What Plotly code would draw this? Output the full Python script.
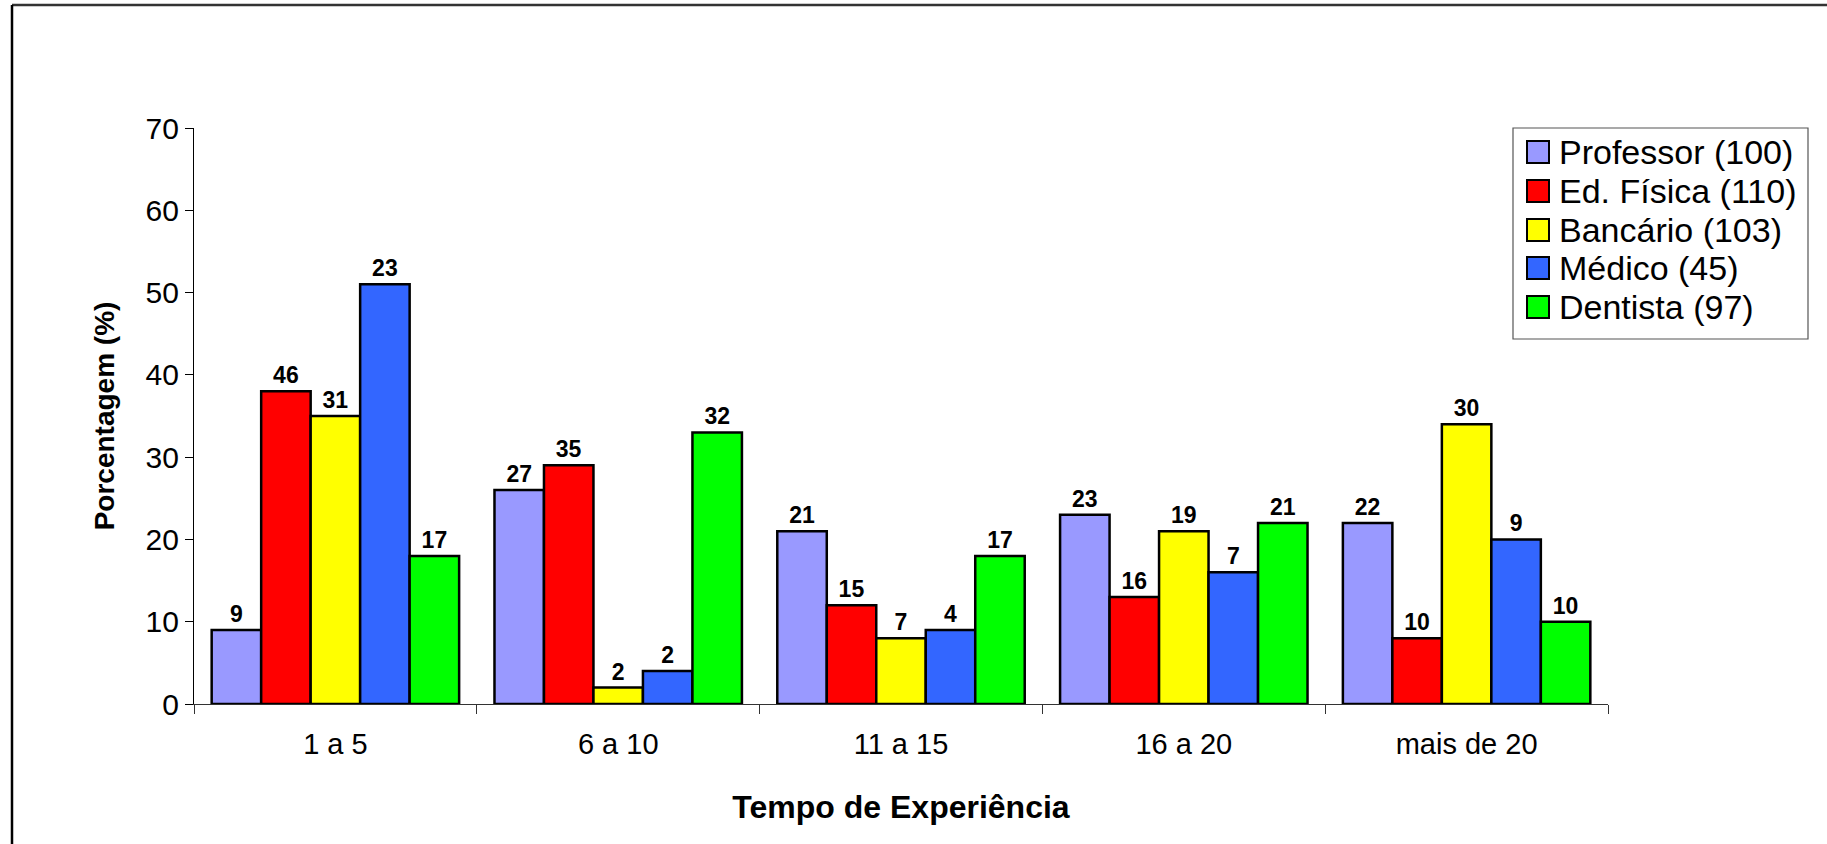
import plotly.graph_objects as go

# Experience brackets (x categories)
categories = ["1 a 5", "6 a 10", "11 a 15", "16 a 20", "mais de 20"]

# Series names as shown in the legend
series_names = ["Professor (100)", "Ed. Física (110)", "Bancário (103)", "Médico (45)", "Dentista (97)"]

# Percentage per bracket (bar heights)
professor_pct = [9, 26, 21, 23, 22]
edfisica_pct = [38, 29, 12, 13, 8]
bancario_pct = [35, 2, 8, 21, 34]
medico_pct = [51, 4, 9, 16, 20]
dentista_pct = [18, 33, 18, 22, 10]

# Absolute counts written above the bars
professor_n = [9, 27, 21, 23, 22]
edfisica_n = [46, 35, 15, 16, 10]
bancario_n = [31, 2, 7, 19, 30]
medico_n = [23, 2, 4, 7, 9]
dentista_n = [17, 32, 17, 21, 10]

y_ticks = [0, 10, 20, 30, 40, 50, 60, 70]

colors = ["#9999FF", "#FF0000", "#FFFF00", "#3366FF", "#00FF00"]
pct_series = [professor_pct, edfisica_pct, bancario_pct, medico_pct, dentista_pct]
n_series = [professor_n, edfisica_n, bancario_n, medico_n, dentista_n]

FONT = "Liberation Sans, Arial, sans-serif"
W, H = 1827, 844
ML, MR, MT, MB = 194, 219, 128, 140
PW, PH = W - ML - MR, H - MT - MB


def px_x(px):
    return (px - ML) / PW


def px_y(py):
    return (H - MB - py) / PH


fig = go.Figure()
for name, vals, counts, col in zip(series_names, pct_series, n_series, colors):
    fig.add_trace(go.Bar(
        x=categories, y=vals, name=name,
        text=[str(c) for c in counts],
        textposition="outside",
        constraintext="none",
        textfont=dict(family=FONT, size=23, color="black", weight="bold"),
        marker=dict(color=col, line=dict(color="black", width=2.5)),
        cliponaxis=False,
        showlegend=False,
    ))

shapes = []
annotations = []

# Outer chart frame (left and top edges)
shapes.append(dict(type="line", xref="paper", yref="paper",
                   x0=px_x(12), x1=px_x(W + 5), y0=px_y(5), y1=px_y(5),
                   line=dict(color="#333333", width=2.5)))
shapes.append(dict(type="line", xref="paper", yref="paper",
                   x0=px_x(12), x1=px_x(12), y0=px_y(5), y1=px_y(H + 5),
                   line=dict(color="black", width=2.5)))

# Legend box
shapes.append(dict(type="rect", xref="paper", yref="paper",
                   x0=px_x(1513), x1=px_x(1808), y0=px_y(128), y1=px_y(339),
                   line=dict(color="#555555", width=1.2), fillcolor="white"))
row_y = [152, 191, 230, 268, 307]
for name, col, ry in zip(series_names, colors, row_y):
    shapes.append(dict(type="rect", xref="paper", yref="paper",
                       x0=px_x(1527), x1=px_x(1549), y0=px_y(ry - 11), y1=px_y(ry + 11),
                       line=dict(color="black", width=2), fillcolor=col))
    annotations.append(dict(xref="paper", yref="paper", x=px_x(1557), y=px_y(ry),
                            xanchor="left", yanchor="middle", showarrow=False,
                            text=name, font=dict(family=FONT, size=34, color="black")))

fig.update_layout(
    width=W, height=H,
    margin=dict(l=ML, r=MR, t=MT, b=MB),
    paper_bgcolor="white", plot_bgcolor="white",
    barmode="group", bargap=0.125, bargroupgap=0,
    font=dict(family=FONT, color="black"),
    shapes=shapes, annotations=annotations,
    xaxis=dict(
        showline=True, linecolor="#333333", linewidth=1.2,
        ticks="outside", tickson="boundaries", ticklen=9, tickcolor="#333333",
        ticklabelstandoff=14,
        tickfont=dict(family=FONT, size=29, color="black"),
        title=dict(text="Tempo de Experiência", standoff=36,
                   font=dict(family=FONT, size=32, color="black", weight="bold")),
        showgrid=False,
    ),
    yaxis=dict(
        range=[0, 70], tickvals=y_ticks,
        showline=True, linecolor="black", linewidth=1.2,
        ticks="outside", ticklen=8, tickcolor="black",
        tickfont=dict(family=FONT, size=30, color="black"),
        title=dict(text="Porcentagem (%)", standoff=22,
                   font=dict(family=FONT, size=28, color="black", weight="bold")),
        showgrid=False, zeroline=False,
    ),
)

fig.write_html("out.html")
